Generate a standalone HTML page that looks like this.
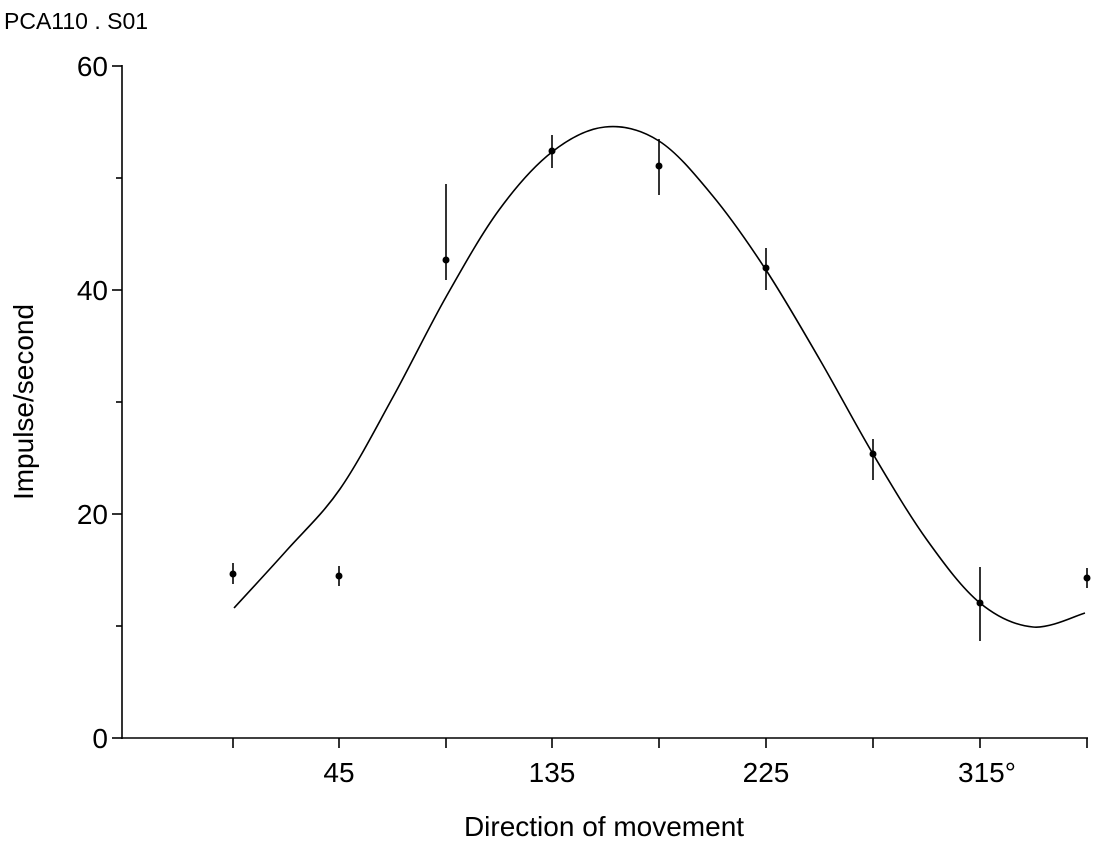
<!DOCTYPE html>
<html><head><meta charset="utf-8"><style>
body{margin:0;background:#fff;}
svg text{font-family:"Liberation Sans",Arial,sans-serif;fill:#000;}
</style></head><body>
<svg id="s" width="1102" height="844" viewBox="0 0 1102 844" xmlns="http://www.w3.org/2000/svg">
<text x="4" y="29" font-size="23">PCA110 . S01</text>
<g stroke="#000" stroke-width="1.6" fill="none">
<line x1="122" y1="65" x2="122" y2="739"/>
<line x1="121" y1="738" x2="1088" y2="738"/>
<line x1="112" y1="66" x2="122" y2="66"/>
<line x1="116" y1="178" x2="122" y2="178"/>
<line x1="112" y1="290" x2="122" y2="290"/>
<line x1="116" y1="402" x2="122" y2="402"/>
<line x1="112" y1="514" x2="122" y2="514"/>
<line x1="116" y1="626" x2="122" y2="626"/>
<line x1="112" y1="738" x2="122" y2="738"/>
<line x1="233" y1="738" x2="233" y2="748"/>
<line x1="339" y1="738" x2="339" y2="748"/>
<line x1="446" y1="738" x2="446" y2="748"/>
<line x1="552" y1="738" x2="552" y2="748"/>
<line x1="659" y1="738" x2="659" y2="748"/>
<line x1="766" y1="738" x2="766" y2="748"/>
<line x1="873" y1="738" x2="873" y2="748"/>
<line x1="980" y1="738" x2="980" y2="748"/>
<line x1="1087" y1="738" x2="1087" y2="748"/>
<line x1="233" y1="563" x2="233" y2="584"/>
<line x1="339" y1="566" x2="339" y2="586"/>
<line x1="446" y1="184" x2="446" y2="280"/>
<line x1="552" y1="135" x2="552" y2="168"/>
<line x1="659" y1="139" x2="659" y2="195"/>
<line x1="766" y1="248" x2="766" y2="290"/>
<line x1="873" y1="439" x2="873" y2="480"/>
<line x1="980" y1="567" x2="980" y2="641"/>
<line x1="1087" y1="568" x2="1087" y2="588"/>
<path id="c" stroke-width="1.6"/>
</g>
<g fill="#000">
<circle cx="233" cy="574" r="3.5"/><circle cx="339" cy="576" r="3.5"/>
<circle cx="446" cy="260" r="3.5"/><circle cx="552" cy="151" r="3.5"/>
<circle cx="659" cy="166" r="3.5"/><circle cx="766" cy="268" r="3.5"/>
<circle cx="873" cy="454" r="3.5"/><circle cx="980" cy="603" r="3.5"/>
<circle cx="1087" cy="578" r="3.5"/>
</g>
<g font-size="28" text-anchor="end">
<text x="108" y="76">60</text><text x="108" y="300">40</text>
<text x="108" y="524">20</text><text x="108" y="748">0</text>
</g>
<g font-size="28" text-anchor="middle">
<text x="339" y="782">45</text><text x="552" y="782">135</text>
<text x="766" y="782">225</text><text x="987" y="782">315°</text>
<text x="604" y="836">Direction of movement</text>
</g>
<text font-size="28" text-anchor="middle" transform="translate(33,402) rotate(-90)">Impulse/second</text>
</svg>
<script>
var p=[[234,608],[287,550],[340,489],[393,397],[446,297],[499,210],[552,152],[605,127],[659,141],[712,195],[766,270],[820,360],[873,454],[927,540],[980,603],[1033,627],[1085,613]];
var d="M"+p[0];
for(var i=0;i<p.length-1;i++){var a=p[Math.max(0,i-1)],b=p[i],c=p[i+1],e=p[Math.min(p.length-1,i+2)];
d+=" C"+(b[0]+(c[0]-a[0])/6)+","+(b[1]+(c[1]-a[1])/6)+" "+(c[0]-(e[0]-b[0])/6)+","+(c[1]-(e[1]-b[1])/6)+" "+c[0]+","+c[1];}
document.getElementById("c").setAttribute("d",d);
</script>
</body></html>
